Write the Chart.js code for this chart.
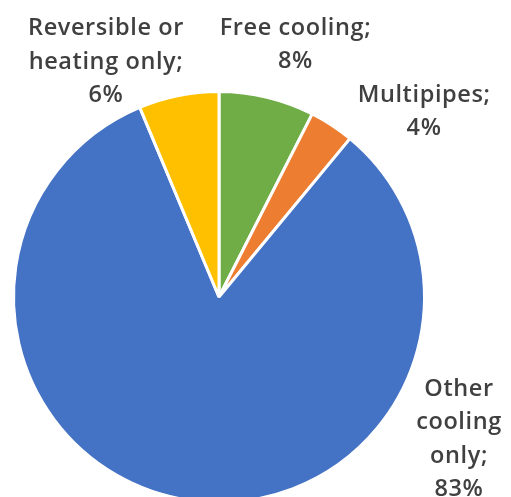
<!DOCTYPE html>
<html>
<head>
<meta charset="utf-8">
<script src="https://cdn.jsdelivr.net/npm/chart.js@4/dist/chart.umd.min.js"></script>
<style>
  html, body { margin: 0; padding: 0; background: #fff; overflow: hidden; }
  #wrap { position: relative; width: 511px; height: 510px; }
</style>
</head>
<body>
<div id="wrap"><canvas id="c"></canvas></div>
<script>
// Share of units by type, clockwise from 12 o'clock
const categories = ['Free cooling', 'Multipipes', 'Other cooling only', 'Reversible or heating only'];
const shares = [7.5, 3.5, 82.7, 6.3];
const colors = ['#70ad47', '#ed7d31', '#4472c4', '#ffc000'];

// Label text lines per slice (the value line is appended from the data)
const labelLines = [
  ['Free cooling;'],
  ['Multipipes;'],
  ['Other', 'cooling', 'only;'],
  ['Reversible or', 'heating only;']
];
// Label centres, in units of the pie radius from the pie centre
const labelOffsets = [
  [0.372, -1.236],
  [0.998, -0.91],
  [1.168, 0.684],
  [-0.55, -1.153]
];

const pieLabels = {
  id: 'pieLabels',
  afterDatasetsDraw(chart) {
    const ctx = chart.ctx;
    const meta = chart.getDatasetMeta(0);
    const data = chart.data.datasets[0].data;
    const total = data.reduce((a, b) => a + b, 0);
    ctx.save();
    ctx.fillStyle = '#404040';
    ctx.font = '600 23.5px "Open Sans", sans-serif';
    if ('letterSpacing' in ctx) ctx.letterSpacing = '0.6px';
    ctx.textAlign = 'center';
    ctx.textBaseline = 'alphabetic';
    const lineH = 33.5;
    const capHalf = 8.5;
    meta.data.forEach((arc, i) => {
      const r = arc.outerRadius;
      const cx = arc.x + labelOffsets[i][0] * r;
      const cy = arc.y + labelOffsets[i][1] * r;
      const lines = labelLines[i].concat([Math.round(data[i] / total * 100) + '%']);
      const y0 = cy - (lines.length - 1) * lineH / 2 + capHalf;
      lines.forEach((t, k) => ctx.fillText(t, cx, y0 + k * lineH));
    });
    ctx.restore();
  }
};

new Chart(document.getElementById('c'), {
  type: 'pie',
  data: {
    labels: categories,
    datasets: [{
      data: shares,
      backgroundColor: colors,
      borderColor: '#ffffff',
      borderWidth: 3
    }]
  },
  options: {
    responsive: true,
    maintainAspectRatio: false,
    animation: false,
    layout: { padding: { left: 12, right: 85, top: 90, bottom: 6 } },
    plugins: {
      legend: { display: false },
      tooltip: { enabled: false }
    }
  },
  plugins: [pieLabels]
});
</script>
</body>
</html>
